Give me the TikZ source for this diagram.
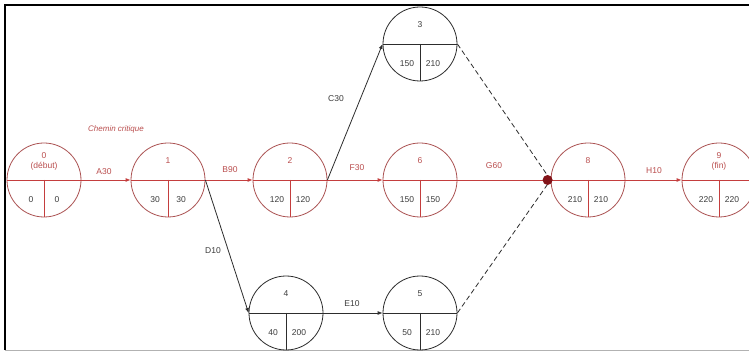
\documentclass[tikz,border=0pt]{standalone}
\usepackage{fontspec}
\setmainfont{Liberation Sans}
\usetikzlibrary{arrows.meta}
\definecolor{critline}{RGB}{196,62,62}
\definecolor{critcirc}{RGB}{172,84,84}
\definecolor{crittext}{RGB}{186,78,78}
\definecolor{normline}{RGB}{45,45,45}
\definecolor{numtext}{RGB}{60,60,60}
\definecolor{dotred}{RGB}{130,20,25}
\tikzset{
  evt/.style={circle,draw,line width=0.8pt,minimum size=74pt,inner sep=0pt},
  crit/.style={evt,draw=critcirc},
  norm/.style={evt,draw=normline},
  lbl/.style={font=\fontsize{8.5}{9}\selectfont,inner sep=0pt},
  critarr/.style={draw=critline,line width=0.8pt,-{Latex[length=5pt,width=4pt]}},
  normarr/.style={draw=normline,line width=0.8pt,-{Latex[length=5pt,width=4pt]}},
  dummy/.style={draw=normline,line width=0.8pt,dash pattern=on 5pt off 3pt}
}
% name, x, y, style, divider colour, top text, top colour, left, right
\newcommand{\evnode}[9]{%
  \node[#4] (#1) at (#2,#3) {};
  \draw[#5,line width=0.8pt] (#1.west) -- (#1.east);
  \draw[#5,line width=0.8pt] (#1.center) -- (#1.south);
  \node[lbl,text=#7,align=center] (#1t) at ([yshift=19pt]#1.center) {#6};
  \node[lbl,text=numtext] (#1l) at ([xshift=-13pt,yshift=-20pt]#1.center) {#8};
  \node[lbl,text=numtext] (#1r) at ([xshift=13pt,yshift=-20pt]#1.center) {#9};
}
\begin{document}
\begin{tikzpicture}[x=1pt,y=-1pt]
\useasboundingbox (0,0) rectangle (749,352);
\fill[white] (0,0) rectangle (749,352);
% frame
\draw[black,line width=1.4pt] (5,350) -- (5,5) -- (749,5);
\draw[black!30,line width=1pt] (5,350) -- (749,350);
% events
\evnode{n0}{44}{180}{crit}{critline}{0\\[1pt](début)}{crittext}{0}{0}
\evnode{n1}{168}{180}{crit}{critline}{1}{crittext}{30}{30}
\evnode{n2}{290}{180}{crit}{critline}{2}{crittext}{120}{120}
\evnode{n6}{420}{180}{crit}{critline}{6}{crittext}{150}{150}
\evnode{n8}{588}{180}{crit}{critline}{8}{crittext}{210}{210}
\evnode{n9}{719}{180}{crit}{critline}{9\\[1pt](fin)}{crittext}{220}{220}
\evnode{n3}{420}{44}{norm}{normline}{3}{numtext}{150}{210}
\evnode{n4}{286}{313}{norm}{normline}{4}{numtext}{40}{200}
\evnode{n5}{420}{313}{norm}{normline}{5}{numtext}{50}{210}
% critical path
\draw[critarr] (n0.east) -- (n1.west);
\draw[critarr] (n1.east) -- (n2.west);
\draw[critarr] (n2.east) -- (n6.west);
\draw[critline,line width=0.8pt] (n6.east) -- (n8.west);
\draw[critarr] (n8.east) -- (n9.west);
% other tasks
\draw[normarr] (n2.east) -- (n3.west);
\draw[normarr] (n1.east) -- (n4.west);
\draw[normarr] (n4.east) -- (n5.west);
\draw[dummy] (n3.east) -- (n8.west);
\draw[dummy] (n5.east) -- (n8.west);
\fill[dotred] ([xshift=-3pt]n8.west) circle (5pt);
% labels
\node[lbl,text=crittext,font=\fontsize{8}{9}\selectfont\itshape] (cc) at (116,129) {Chemin critique};
\node[lbl,text=crittext] (lA) at (104,172) {A30};
\node[lbl,text=crittext] (lB) at (230,170) {B90};
\node[lbl,text=crittext] (lF) at (357,168) {F30};
\node[lbl,text=crittext] (lG) at (494,166) {G60};
\node[lbl,text=crittext] (lH) at (654,171) {H10};
\node[lbl,text=numtext] (lC) at (336,99) {C30};
\node[lbl,text=numtext] (lD) at (213,251) {D10};
\node[lbl,text=numtext] (lE) at (352,304) {E10};
\end{tikzpicture}
\end{document}
